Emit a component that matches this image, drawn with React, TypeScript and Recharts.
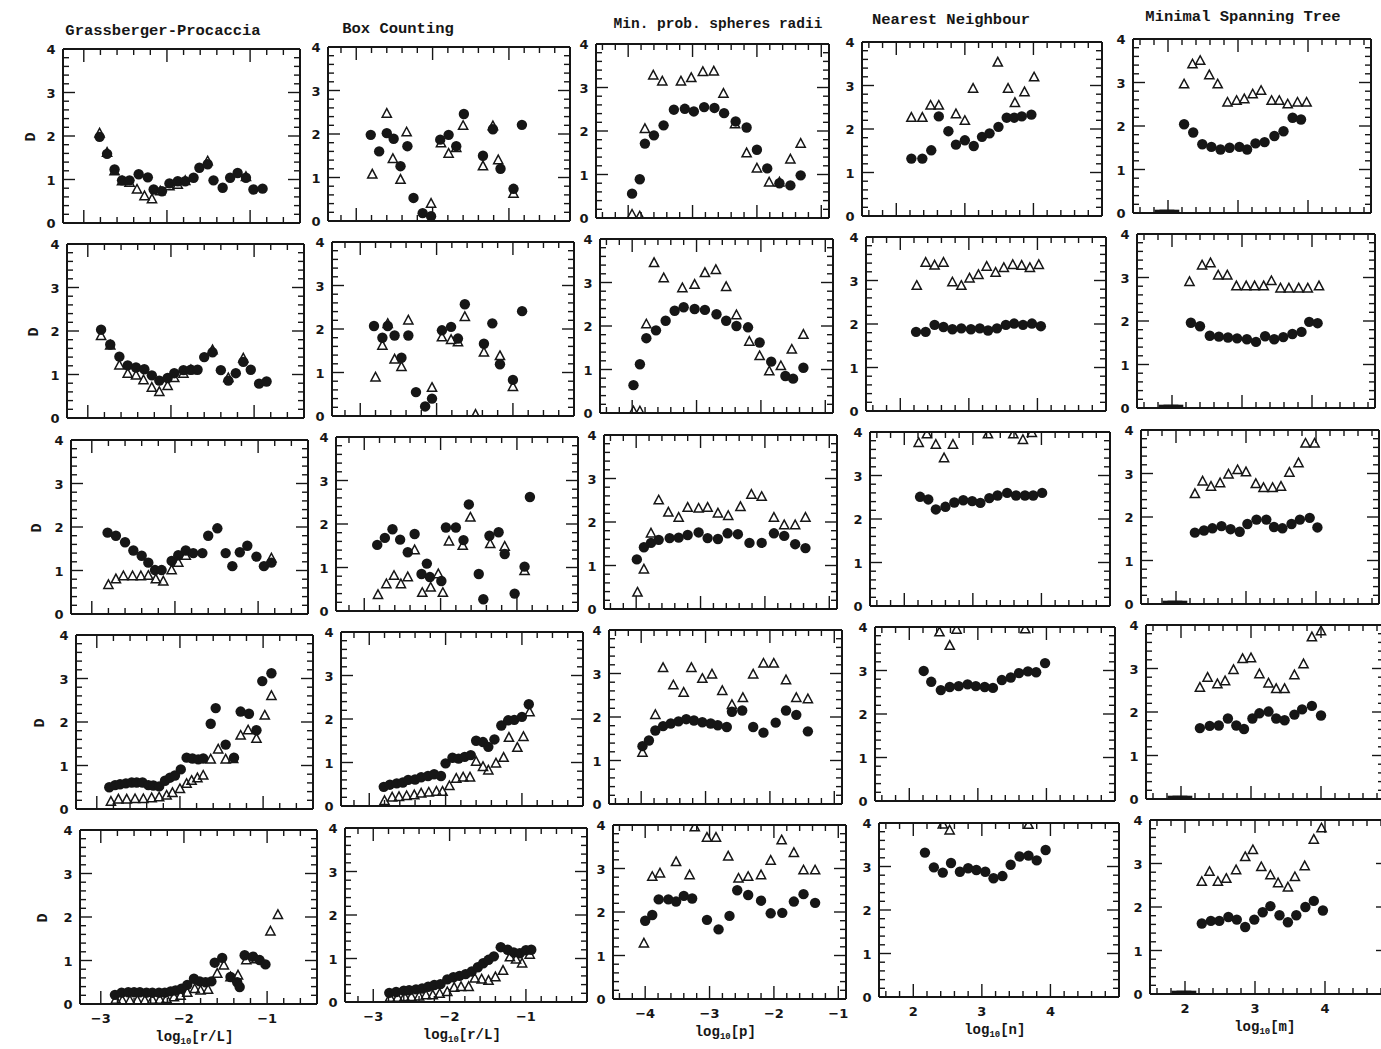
import React from 'react';
import { ScatterChart, Scatter, XAxis, YAxis } from 'recharts';

type Pt = [number, number];

// ---- data: [x, y], c = filled circles, t = open triangles ----
// Row 1
const gp1c: Pt[] = [[-2.81,1.98],[-2.72,1.59],[-2.63,1.23],[-2.54,0.98],[-2.45,0.98],[-2.34,1.12],[-2.23,1.05],[-2.16,0.77],[-2.06,0.73],[-1.97,0.91],[-1.87,0.96],[-1.78,0.96],[-1.68,1.04],[-1.61,1.27],[-1.51,1.35],[-1.44,0.98],[-1.33,0.81],[-1.24,1.04],[-1.15,1.15],[-1.05,1.04],[-0.96,0.77],[-0.85,0.79]];
const gp1t: Pt[] = [[-2.81,2.06],[-2.72,1.62],[-2.63,1.19],[-2.54,0.96],[-2.45,0.93],[-2.36,0.77],[-2.27,0.62],[-2.18,0.55],[-2.08,0.73],[-1.97,0.85],[-1.87,0.88],[-1.78,0.97],[-1.51,1.42],[-1.05,1.06]];
const bc1c: Pt[] = [[-2.81,1.98],[-2.70,1.60],[-2.60,2.02],[-2.51,1.89],[-2.42,1.26],[-2.33,1.72],[-2.25,0.53],[-2.13,0.18],[-2.02,0.11],[-1.90,1.87],[-1.79,1.98],[-1.69,1.72],[-1.59,2.46],[-1.34,1.50],[-1.21,2.11],[-1.11,1.20],[-0.94,0.74],[-0.83,2.21]];
const bc1t: Pt[] = [[-2.79,1.07],[-2.60,2.47],[-2.52,1.43],[-2.42,0.95],[-2.34,2.04],[-2.02,0.40],[-1.89,1.79],[-1.79,1.55],[-1.69,1.68],[-1.60,2.19],[-1.34,1.26],[-1.21,2.18],[-1.14,1.40],[-0.94,0.63]];
const mp1c: Pt[] = [[-3.94,0.56],[-3.82,0.89],[-3.74,1.71],[-3.60,1.90],[-3.45,2.13],[-3.29,2.49],[-3.12,2.51],[-2.98,2.45],[-2.82,2.55],[-2.66,2.53],[-2.51,2.41],[-2.33,2.22],[-2.16,2.08],[-2.00,1.57],[-1.84,1.14],[-1.65,0.80],[-1.48,0.75],[-1.32,0.98]];
const mp1t: Pt[] = [[-3.94,0.08],[-3.82,0.04],[-3.74,2.05],[-3.61,3.28],[-3.47,3.14],[-3.18,3.14],[-3.02,3.22],[-2.84,3.36],[-2.67,3.37],[-2.52,2.86],[-2.34,2.16],[-2.16,1.49],[-2.00,1.14],[-1.81,0.82],[-1.65,0.82],[-1.48,1.35],[-1.32,1.71]];
const nn1c: Pt[] = [[2.22,1.32],[2.38,1.32],[2.51,1.51],[2.62,2.29],[2.76,1.95],[2.87,1.64],[3.00,1.74],[3.13,1.61],[3.25,1.82],[3.36,1.90],[3.49,2.05],[3.61,2.26],[3.72,2.26],[3.83,2.29],[3.97,2.33]];
const nn1t: Pt[] = [[2.22,2.26],[2.38,2.26],[2.50,2.54],[2.62,2.54],[2.87,2.34],[3.00,2.19],[3.12,2.93],[3.48,3.53],[3.63,2.93],[3.73,2.60],[3.87,2.85],[4.01,3.19]];
const mst1c: Pt[] = [[2.23,2.04],[2.36,1.85],[2.49,1.58],[2.62,1.52],[2.75,1.46],[2.88,1.50],[3.02,1.52],[3.13,1.46],[3.25,1.60],[3.38,1.63],[3.52,1.77],[3.65,1.88],[3.78,2.19],[3.90,2.15]];
const mst1t: Pt[] = [[2.23,2.96],[2.35,3.42],[2.46,3.50],[2.59,3.17],[2.71,2.96],[2.85,2.54],[2.98,2.58],[3.09,2.62],[3.21,2.73],[3.33,2.81],[3.48,2.58],[3.59,2.58],[3.71,2.50],[3.85,2.54],[3.98,2.54]];

// Row 2
const gp2c: Pt[] = [[-2.84,2.03],[-2.73,1.69],[-2.62,1.41],[-2.52,1.21],[-2.42,1.16],[-2.32,1.12],[-2.23,0.98],[-2.14,0.86],[-2.04,0.92],[-1.96,1.03],[-1.85,1.10],[-1.76,1.11],[-1.68,1.11],[-1.60,1.40],[-1.50,1.51],[-1.40,1.10],[-1.31,0.86],[-1.22,1.03],[-1.13,1.29],[-1.04,1.11],[-0.94,0.79],[-0.85,0.84]];
const gp2t: Pt[] = [[-2.84,1.89],[-2.73,1.67],[-2.62,1.21],[-2.52,1.02],[-2.42,0.98],[-2.33,0.87],[-2.23,0.70],[-2.14,0.60],[-2.04,0.74],[-1.96,0.92],[-1.85,1.02],[-1.76,1.10],[-1.50,1.56],[-1.31,0.92],[-1.13,1.37]];
const bc2c: Pt[] = [[-2.82,2.07],[-2.71,1.80],[-2.64,2.07],[-2.55,1.85],[-2.46,1.34],[-2.37,1.85],[-2.27,0.55],[-2.15,0.22],[-2.06,0.40],[-1.93,1.97],[-1.81,2.05],[-1.72,1.78],[-1.63,2.57],[-1.38,1.66],[-1.27,2.13],[-1.17,1.19],[-1.00,0.83],[-0.88,2.41]];
const bc2t: Pt[] = [[-2.80,0.89],[-2.71,1.62],[-2.64,2.12],[-2.55,1.30],[-2.46,1.13],[-2.37,2.20],[-2.06,0.65],[-1.93,1.81],[-1.81,1.75],[-1.72,1.70],[-1.63,2.28],[-1.38,1.46],[-1.17,1.38],[-1.00,0.67],[-1.49,0.03]];
const mp2c: Pt[] = [[-3.98,0.64],[-3.88,1.12],[-3.78,1.72],[-3.63,1.90],[-3.48,2.12],[-3.34,2.35],[-3.20,2.43],[-3.03,2.39],[-2.87,2.37],[-2.69,2.27],[-2.54,2.12],[-2.38,2.00],[-2.20,1.97],[-2.02,1.62],[-1.84,1.18],[-1.62,0.85],[-1.50,0.79],[-1.34,1.04]];
const mp2t: Pt[] = [[-3.98,0.04],[-3.88,0.04],[-3.78,2.04],[-3.66,3.45],[-3.51,3.10],[-3.22,2.87],[-3.03,2.95],[-2.87,3.22],[-2.70,3.29],[-2.54,2.90],[-2.38,2.25],[-2.18,1.64],[-2.02,1.31],[-1.87,0.96],[-1.69,1.08],[-1.52,1.46],[-1.34,1.80]];
const nn2c: Pt[] = [[2.23,1.82],[2.37,1.82],[2.50,1.98],[2.63,1.93],[2.76,1.88],[2.89,1.90],[3.03,1.88],[3.16,1.90],[3.28,1.85],[3.41,1.90],[3.54,1.98],[3.66,2.01],[3.79,1.98],[3.92,2.01],[4.05,1.95]];
const nn2t: Pt[] = [[2.24,2.88],[2.37,3.41],[2.50,3.35],[2.63,3.41],[2.76,2.96],[2.89,2.88],[3.01,3.05],[3.14,3.13],[3.26,3.32],[3.39,3.18],[3.51,3.29],[3.64,3.36],[3.77,3.34],[3.89,3.29],[4.02,3.36]];
const mst2c: Pt[] = [[2.27,1.96],[2.40,1.88],[2.54,1.66],[2.67,1.64],[2.80,1.62],[2.93,1.60],[3.07,1.58],[3.20,1.52],[3.33,1.65],[3.46,1.58],[3.59,1.63],[3.72,1.70],[3.85,1.75],[3.96,1.98],[4.08,1.95]];
const mst2t: Pt[] = [[2.25,2.90],[2.43,3.28],[2.55,3.33],[2.66,3.05],[2.79,3.05],[2.92,2.80],[3.06,2.80],[3.18,2.80],[3.31,2.80],[3.42,2.92],[3.55,2.75],[3.67,2.75],[3.81,2.75],[3.94,2.75],[4.10,2.80]];

// Row 3
const gp3c: Pt[] = [[-2.81,1.87],[-2.71,1.80],[-2.60,1.65],[-2.50,1.46],[-2.40,1.34],[-2.32,1.18],[-2.24,1.01],[-2.16,1.01],[-2.04,1.22],[-1.96,1.35],[-1.87,1.46],[-1.78,1.40],[-1.67,1.40],[-1.60,1.80],[-1.49,1.97],[-1.39,1.40],[-1.31,1.10],[-1.22,1.42],[-1.13,1.57],[-1.02,1.32],[-0.93,1.10],[-0.84,1.18]];
const gp3t: Pt[] = [[-2.80,0.67],[-2.71,0.80],[-2.62,0.87],[-2.51,0.87],[-2.41,0.87],[-2.32,0.88],[-2.23,0.80],[-2.14,0.75],[-2.04,1.01],[-1.96,1.18],[-1.87,1.34],[-0.84,1.28]];
const bc3c: Pt[] = [[-2.83,1.52],[-2.73,1.68],[-2.63,1.88],[-2.53,1.64],[-2.43,1.35],[-2.34,1.77],[-2.25,0.85],[-2.18,1.09],[-2.14,0.78],[-1.99,0.69],[-1.93,1.92],[-1.80,1.92],[-1.70,1.63],[-1.63,2.45],[-1.50,0.85],[-1.44,0.27],[-1.36,1.73],[-1.24,1.81],[-1.16,1.31],[-1.03,0.40],[-0.90,1.02],[-0.83,2.62]];
const bc3t: Pt[] = [[-2.82,0.37],[-2.71,0.62],[-2.61,0.81],[-2.52,0.62],[-2.43,0.78],[-2.34,1.40],[-2.24,0.42],[-2.13,0.54],[-2.03,0.85],[-1.97,0.42],[-1.89,1.60],[-1.71,1.50],[-1.61,2.15],[-1.35,1.54],[-1.16,1.48],[-0.90,0.92]];
const mp3c: Pt[] = [[-3.99,1.14],[-3.88,1.42],[-3.77,1.52],[-3.65,1.59],[-3.48,1.63],[-3.34,1.64],[-3.20,1.70],[-3.03,1.76],[-2.89,1.63],[-2.73,1.61],[-2.58,1.74],[-2.42,1.72],[-2.24,1.52],[-2.05,1.52],[-1.86,1.74],[-1.70,1.68],[-1.53,1.49],[-1.37,1.40]];
const mp3t: Pt[] = [[-3.98,0.38],[-3.88,0.91],[-3.77,1.74],[-3.65,2.50],[-3.50,2.22],[-3.34,2.10],[-3.20,2.33],[-3.03,2.31],[-2.89,2.33],[-2.73,2.20],[-2.57,2.14],[-2.38,2.35],[-2.21,2.63],[-2.05,2.58],[-1.86,2.10],[-1.70,1.93],[-1.53,1.93],[-1.37,2.10]];
const nn3c: Pt[] = [[2.23,2.51],[2.35,2.45],[2.46,2.22],[2.60,2.28],[2.73,2.38],[2.86,2.43],[2.99,2.41],[3.11,2.37],[3.24,2.48],[3.36,2.54],[3.50,2.60],[3.63,2.54],[3.76,2.54],[3.88,2.54],[4.01,2.60]];
const nn3t: Pt[] = [[2.21,3.75],[2.33,3.95],[2.46,3.71],[2.58,3.40],[2.71,3.71],[3.22,3.95],[3.59,3.95],[3.73,3.82],[3.86,3.98]];
const mst3c: Pt[] = [[2.27,1.64],[2.40,1.69],[2.52,1.74],[2.65,1.79],[2.78,1.72],[2.91,1.66],[3.02,1.84],[3.15,1.94],[3.29,1.94],[3.40,1.77],[3.52,1.74],[3.65,1.84],[3.77,1.94],[3.91,1.98],[4.02,1.76]];
const mst3t: Pt[] = [[2.27,2.53],[2.38,2.82],[2.50,2.70],[2.63,2.78],[2.75,2.98],[2.88,3.08],[3.00,3.03],[3.14,2.76],[3.25,2.67],[3.38,2.67],[3.50,2.70],[3.62,3.02],[3.75,3.24],[3.85,3.69],[3.98,3.69]];

// Row 4
const gp4c: Pt[] = [[-2.85,0.50],[-2.78,0.55],[-2.72,0.57],[-2.65,0.59],[-2.58,0.61],[-2.52,0.61],[-2.45,0.61],[-2.38,0.55],[-2.32,0.54],[-2.25,0.52],[-2.18,0.65],[-2.12,0.72],[-2.06,0.77],[-1.99,0.91],[-1.92,1.18],[-1.85,1.16],[-1.78,1.14],[-1.72,1.16],[-1.63,1.96],[-1.57,2.32],[-1.45,1.48],[-1.35,1.18],[-1.27,2.24],[-1.17,2.19],[-1.08,1.81],[-1.01,2.94],[-0.90,3.12]];
const gp4t: Pt[] = [[-2.83,0.17],[-2.74,0.22],[-2.64,0.22],[-2.54,0.23],[-2.44,0.23],[-2.34,0.25],[-2.25,0.27],[-2.16,0.31],[-2.09,0.37],[-2.00,0.46],[-1.92,0.58],[-1.86,0.65],[-1.79,0.71],[-1.72,0.77],[-1.63,1.14],[-1.54,1.37],[-1.45,1.14],[-1.36,1.15],[-1.27,1.69],[-1.18,1.81],[-1.08,1.62],[-0.98,2.15],[-0.90,2.60]];
const bc4c: Pt[] = [[-2.81,0.44],[-2.73,0.49],[-2.64,0.52],[-2.56,0.54],[-2.49,0.60],[-2.40,0.61],[-2.32,0.66],[-2.23,0.69],[-2.15,0.73],[-2.06,0.69],[-2.00,0.98],[-1.91,1.11],[-1.83,1.09],[-1.75,1.13],[-1.67,1.17],[-1.60,1.50],[-1.51,1.47],[-1.44,1.36],[-1.36,1.53],[-1.27,1.85],[-1.18,1.97],[-1.10,1.98],[-1.00,2.05],[-0.91,2.34]];
const bc4t: Pt[] = [[-2.80,0.12],[-2.70,0.20],[-2.61,0.21],[-2.51,0.23],[-2.41,0.25],[-2.32,0.29],[-2.22,0.31],[-2.12,0.33],[-2.04,0.33],[-1.95,0.46],[-1.86,0.63],[-1.77,0.66],[-1.68,0.66],[-1.60,1.02],[-1.51,0.90],[-1.44,0.82],[-1.34,0.98],[-1.24,1.11],[-1.17,1.57],[-1.06,1.34],[-0.98,1.59],[-0.90,2.16]];
const mp4c: Pt[] = [[-3.98,1.33],[-3.88,1.46],[-3.78,1.69],[-3.66,1.79],[-3.54,1.85],[-3.42,1.90],[-3.30,1.95],[-3.18,1.92],[-3.05,1.88],[-2.92,1.85],[-2.81,1.81],[-2.67,1.77],[-2.59,2.12],[-2.43,2.15],[-2.26,1.77],[-2.10,1.64],[-1.91,1.87],[-1.75,2.15],[-1.59,2.05],[-1.41,1.67]];
const mp4t: Pt[] = [[-3.98,1.18],[-3.78,2.05],[-3.66,3.13],[-3.50,2.73],[-3.34,2.56],[-3.22,3.13],[-3.05,2.88],[-2.90,2.98],[-2.74,2.60],[-2.59,2.28],[-2.42,2.44],[-2.26,2.98],[-2.10,3.23],[-1.94,3.23],[-1.75,2.85],[-1.59,2.44],[-1.41,2.41]];
const nn4c: Pt[] = [[2.21,2.99],[2.32,2.74],[2.46,2.55],[2.59,2.62],[2.72,2.64],[2.85,2.68],[2.97,2.64],[3.10,2.62],[3.22,2.60],[3.35,2.78],[3.48,2.84],[3.60,2.94],[3.73,2.98],[3.85,2.96],[3.98,3.17]];
const nn4t: Pt[] = [[2.44,3.88],[2.59,3.57],[2.69,3.94],[3.69,3.95]];
const mst4c: Pt[] = [[2.27,1.63],[2.41,1.68],[2.54,1.69],[2.67,1.85],[2.79,1.69],[2.90,1.61],[3.02,1.85],[3.12,1.97],[3.25,2.01],[3.36,1.85],[3.48,1.81],[3.62,1.94],[3.73,2.06],[3.87,2.14],[4.00,1.92]];
const mst4t: Pt[] = [[2.27,2.56],[2.38,2.79],[2.52,2.64],[2.63,2.71],[2.75,2.97],[2.88,3.22],[3.00,3.24],[3.12,2.87],[3.25,2.66],[3.36,2.53],[3.48,2.53],[3.62,2.85],[3.75,3.10],[3.87,3.72],[4.00,3.86]];

// Row 5
const gp5c: Pt[] = [[-2.83,0.21],[-2.75,0.26],[-2.67,0.27],[-2.60,0.27],[-2.53,0.27],[-2.45,0.26],[-2.38,0.26],[-2.30,0.26],[-2.23,0.26],[-2.16,0.29],[-2.10,0.31],[-2.03,0.35],[-1.96,0.44],[-1.88,0.58],[-1.81,0.52],[-1.74,0.50],[-1.67,0.52],[-1.63,0.95],[-1.54,1.06],[-1.44,0.62],[-1.36,0.50],[-1.33,0.39],[-1.27,1.12],[-1.17,1.09],[-1.09,1.01],[-1.02,0.91]];
const gp5t: Pt[] = [[-2.82,0.10],[-2.74,0.08],[-2.65,0.08],[-2.56,0.08],[-2.47,0.08],[-2.38,0.10],[-2.29,0.10],[-2.21,0.12],[-2.12,0.16],[-2.04,0.19],[-1.96,0.26],[-1.87,0.35],[-1.80,0.31],[-1.71,0.33],[-1.60,0.70],[-1.52,0.89],[-1.44,0.62],[-1.35,0.66],[-1.25,1.01],[-1.13,1.03],[-0.96,1.67],[-0.87,2.05]];
const bc5c: Pt[] = [[-2.79,0.21],[-2.70,0.23],[-2.60,0.26],[-2.53,0.27],[-2.44,0.29],[-2.36,0.31],[-2.28,0.35],[-2.20,0.39],[-2.12,0.41],[-2.03,0.52],[-1.95,0.57],[-1.87,0.60],[-1.79,0.64],[-1.71,0.70],[-1.63,0.80],[-1.56,0.89],[-1.49,0.97],[-1.42,1.05],[-1.33,1.26],[-1.24,1.20],[-1.16,1.14],[-1.08,1.12],[-1.00,1.19],[-0.93,1.20]];
const bc5t: Pt[] = [[-2.78,0.10],[-2.68,0.10],[-2.59,0.12],[-2.50,0.12],[-2.40,0.13],[-2.31,0.16],[-2.22,0.16],[-2.13,0.19],[-2.03,0.23],[-1.94,0.33],[-1.85,0.35],[-1.75,0.35],[-1.67,0.54],[-1.58,0.52],[-1.49,0.49],[-1.40,0.57],[-1.30,0.72],[-1.21,1.03],[-1.13,0.98],[-1.05,0.89],[-0.95,1.09]];
const mp5c: Pt[] = [[-4.00,1.80],[-3.89,1.93],[-3.79,2.29],[-3.64,2.29],[-3.52,2.24],[-3.40,2.37],[-3.27,2.31],[-3.04,1.82],[-2.86,1.60],[-2.69,1.91],[-2.57,2.50],[-2.40,2.39],[-2.20,2.26],[-2.05,1.97],[-1.87,1.98],[-1.69,2.24],[-1.54,2.41],[-1.36,2.21]];
const mp5t: Pt[] = [[-4.02,1.28],[-3.89,2.81],[-3.77,2.89],[-3.52,3.15],[-3.31,2.85],[-3.23,3.95],[-3.04,3.71],[-2.90,3.71],[-2.71,3.28],[-2.55,2.77],[-2.40,2.81],[-2.20,2.85],[-2.05,3.18],[-1.88,3.65],[-1.69,3.36],[-1.54,2.96],[-1.36,2.96]];
const nn5c: Pt[] = [[2.17,3.32],[2.30,2.98],[2.43,2.86],[2.55,3.08],[2.68,2.88],[2.80,2.96],[2.92,2.92],[3.05,2.88],[3.17,2.73],[3.30,2.78],[3.42,3.04],[3.55,3.23],[3.68,3.25],[3.80,3.14],[3.93,3.38]];
const nn5t: Pt[] = [[2.43,3.97],[2.53,3.83],[3.68,3.96]];
const mst5c: Pt[] = [[2.24,1.62],[2.37,1.68],[2.49,1.68],[2.62,1.77],[2.74,1.71],[2.86,1.54],[2.99,1.71],[3.11,1.88],[3.22,2.02],[3.35,1.81],[3.47,1.65],[3.59,1.81],[3.72,2.00],[3.84,2.14],[3.97,1.92]];
const mst5t: Pt[] = [[2.24,2.58],[2.35,2.81],[2.47,2.58],[2.59,2.65],[2.73,2.85],[2.86,3.15],[2.97,3.31],[3.09,2.92],[3.22,2.73],[3.33,2.55],[3.47,2.45],[3.57,2.69],[3.71,2.94],[3.84,3.55],[3.95,3.81]];

// short flat run sitting on the axis in every MST panel
const mstZero: Pt[] = [[1.88,0.03],[1.95,0.03],[2.02,0.03],[2.09,0.03]];

// ---- axes ----
const titles = ['Grassberger-Procaccia', 'Box Counting', 'Min. prob. spheres radii', 'Nearest Neighbour', 'Minimal Spanning Tree'];
const xVars = ['r/L', 'r/L', 'p', 'n', 'm'];
const yTicks = [0, 0.2, 0.4, 0.6, 0.8, 1, 1.2, 1.4, 1.6, 1.8, 2, 2.2, 2.4, 2.6, 2.8, 3, 3.2, 3.4, 3.6, 3.8, 4];
const xTicksGP = [-3, -2.8, -2.6, -2.4, -2.2, -2, -1.8, -1.6, -1.4, -1.2, -1, -0.8, -0.6];
const xTicksBC = [-3.2, -3, -2.8, -2.6, -2.4, -2.2, -2, -1.8, -1.6, -1.4, -1.2, -1, -0.8, -0.6, -0.4];
const xTicksMP = [-4.4, -4.2, -4, -3.8, -3.6, -3.4, -3.2, -3, -2.8, -2.6, -2.4, -2.2, -2, -1.8, -1.6, -1.4, -1.2, -1];
const xTicksNN = [1.6, 1.8, 2, 2.2, 2.4, 2.6, 2.8, 3, 3.2, 3.4, 3.6, 3.8, 4, 4.2, 4.4, 4.6, 4.8];
const xDomains: [number, number][] = [[-3.25, -0.4], [-3.37, -0.2], [-4.5, -0.88], [1.5, 5.0], [1.5, 4.9]];
const xTickSets = [xTicksGP, xTicksBC, xTicksMP, xTicksNN, xTicksNN];

const grid: { c: Pt[]; t: Pt[] }[][] = [
  [{ c: gp1c, t: gp1t }, { c: bc1c, t: bc1t }, { c: mp1c, t: mp1t }, { c: nn1c, t: nn1t }, { c: mst1c, t: mst1t }],
  [{ c: gp2c, t: gp2t }, { c: bc2c, t: bc2t }, { c: mp2c, t: mp2t }, { c: nn2c, t: nn2t }, { c: mst2c, t: mst2t }],
  [{ c: gp3c, t: gp3t }, { c: bc3c, t: bc3t }, { c: mp3c, t: mp3t }, { c: nn3c, t: nn3t }, { c: mst3c, t: mst3t }],
  [{ c: gp4c, t: gp4t }, { c: bc4c, t: bc4t }, { c: mp4c, t: mp4t }, { c: nn4c, t: nn4t }, { c: mst4c, t: mst4t }],
  [{ c: gp5c, t: gp5t }, { c: bc5c, t: bc5t }, { c: mp5c, t: mp5t }, { c: nn5c, t: nn5t }, { c: mst5c, t: mst5t }],
];

// ---- layout (the scan is slightly rotated, so boxes drift per row/column) ----
const INK = '#161616';
const COL_LEFT = [63, 328, 596, 862, 1133];
const COL_W = [237, 242, 233, 240, 238];
const BOX_H = 174;
const TITLE_POS = [[163, 31], [398, 29], [718, 24], [951, 20], [1243, 17]];
const PAD_L = 30, PAD_R = 6, PAD_T = 10;

const boxLeft = (r: number, c: number) => COL_LEFT[c] + 4.2 * r;
const boxTop = (r: number, c: number) => 49 + 195.25 * r - 2.5 * c;

const tickFont: React.CSSProperties = { fontFamily: 'DejaVu Sans', fontWeight: 700, fontSize: 13, fill: INK };
const isMajor = (v: number) => Math.abs(v - Math.round(v)) < 1e-6;
const fmt = (v: number) => (v < 0 ? '\u2212' + Math.abs(Math.round(v)) : String(Math.round(v)));

const BottomTick = ({ x, y, payload, show }: any) => {
  const major = isMajor(payload.value);
  return (
    <g>
      <line x1={x} y1={y} x2={x} y2={y - (major ? 13 : 6)} stroke={INK} strokeWidth={1.4} />
      {show && major && (
        <text x={x} y={y + 19} textAnchor="middle" style={tickFont}>{fmt(payload.value)}</text>
      )}
    </g>
  );
};
const TopTick = ({ x, y, payload }: any) => (
  <line x1={x} y1={y} x2={x} y2={y + (isMajor(payload.value) ? 13 : 6)} stroke={INK} strokeWidth={1.4} />
);
const LeftTick = ({ x, y, payload }: any) => {
  const major = isMajor(payload.value);
  return (
    <g>
      <line x1={x} y1={y} x2={x + (major ? 12 : 6)} y2={y} stroke={INK} strokeWidth={1.4} />
      {major && <text x={x - 12} y={y + 5} textAnchor="middle" style={tickFont}>{fmt(payload.value)}</text>}
    </g>
  );
};
const RightTick = ({ x, y, payload }: any) => (
  <line x1={x} y1={y} x2={x - (isMajor(payload.value) ? 12 : 6)} y2={y} stroke={INK} strokeWidth={1.4} />
);

const dot = (p: any) => <circle cx={p.cx} cy={p.cy} r={5.2} fill={INK} />;
const tri = (p: any) => (
  <path
    d={`M${p.cx},${p.cy - 5} L${p.cx + 4.6},${p.cy + 3.6} L${p.cx - 4.6},${p.cy + 3.6} Z`}
    fill="none"
    stroke={INK}
    strokeWidth={1.5}
  />
);
const dash = (p: any) => <rect x={p.cx - 5} y={p.cy - 2} width={10} height={3} fill={INK} />;

const toXY = (a: Pt[]) => a.map(([x, y]) => ({ x, y }));
const axisLine = { stroke: INK, strokeWidth: 2 };

const Panel = ({ r, c }: { r: number; c: number }) => {
  const last = r === 4;
  const padB = last ? 26 : 12;
  const w = PAD_L + COL_W[c] + PAD_R;
  const h = PAD_T + BOX_H + padB;
  const cell = grid[r][c];
  return (
    <div style={{ position: 'absolute', left: boxLeft(r, c) - PAD_L, top: boxTop(r, c) - PAD_T }}>
      <ScatterChart width={w} height={h} margin={{ top: 0, right: 0, bottom: 0, left: 0 }}>
        <XAxis xAxisId="b" type="number" dataKey="x" domain={xDomains[c]} ticks={xTickSets[c]} interval={0}
          allowDataOverflow height={padB} tickSize={0} tickMargin={0} tickLine={false} axisLine={axisLine}
          tick={(p: any) => <BottomTick {...p} show={last} />} />
        <XAxis xAxisId="t" orientation="top" type="number" dataKey="x" domain={xDomains[c]} ticks={xTickSets[c]}
          interval={0} allowDataOverflow height={PAD_T} tickSize={0} tickMargin={0} tickLine={false}
          axisLine={axisLine} tick={(p: any) => <TopTick {...p} />} />
        <YAxis yAxisId="l" type="number" dataKey="y" domain={[0, 4]} ticks={yTicks} interval={0} allowDataOverflow
          width={PAD_L} tickSize={0} tickMargin={0} tickLine={false} axisLine={axisLine}
          tick={(p: any) => <LeftTick {...p} />} />
        <YAxis yAxisId="r" orientation="right" type="number" dataKey="y" domain={[0, 4]} ticks={yTicks} interval={0}
          allowDataOverflow width={PAD_R} tickSize={0} tickMargin={0} tickLine={false} axisLine={axisLine}
          tick={(p: any) => <RightTick {...p} />} />
        <Scatter xAxisId="b" yAxisId="l" data={toXY(cell.c)} shape={dot} isAnimationActive={false} />
        <Scatter xAxisId="b" yAxisId="l" data={toXY(cell.t)} shape={tri} isAnimationActive={false} />
        {c === 4 && (
          <Scatter xAxisId="b" yAxisId="l" data={toXY(mstZero)} shape={dash} isAnimationActive={false} />
        )}
      </ScatterChart>
    </div>
  );
};

const textStyle: React.CSSProperties = {
  position: 'absolute',
  fontFamily: 'Liberation Mono',
  fontWeight: 700,
  color: INK,
  whiteSpace: 'nowrap',
  transform: 'translate(-50%, -50%)',
};

export default function App() {
  const rows = [0, 1, 2, 3, 4];
  const cols = [0, 1, 2, 3, 4];
  return (
    <div style={{ position: 'fixed', left: 0, top: 0, width: 1381, height: 1049, background: '#fff', overflow: 'hidden' }}>
      {titles.map((t, c) => (
        <div key={t} style={{ ...textStyle, left: TITLE_POS[c][0], top: TITLE_POS[c][1], fontSize: c === 2 ? 14.5 : 15.5 }}>
          {t}
        </div>
      ))}
      {rows.map((r) => (
        <div key={'D' + r}
          style={{ ...textStyle, left: 31 + 3 * r, top: boxTop(r, 0) + 88, fontSize: 15, transform: 'translate(-50%, -50%) rotate(-90deg)' }}>
          D
        </div>
      ))}
      {rows.map((r) => cols.map((c) => <Panel key={`${r}-${c}`} r={r} c={c} />))}
      {cols.map((c) => (
        <div key={'xl' + c}
          style={{ ...textStyle, left: boxLeft(4, c) + COL_W[c] / 2 - 4, top: boxTop(4, c) + BOX_H + 34, fontSize: 14 }}>
          log<sub style={{ fontSize: 9 }}>10</sub>[{xVars[c]}]
        </div>
      ))}
    </div>
  );
}
